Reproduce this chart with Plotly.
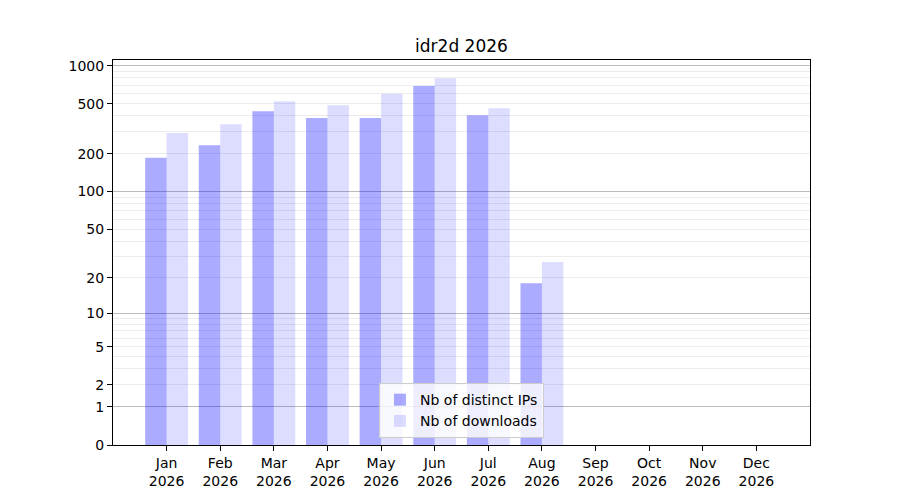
import numpy as np
import plotly.graph_objs as go

# monthly stats for idr2d, 2026
months = ['Jan', 'Feb', 'Mar', 'Apr', 'May', 'Jun', 'Jul', 'Aug', 'Sep', 'Oct', 'Nov', 'Dec']
year = '2026'
distinct_ips = [186, 234, 436, 384, 384, 691, 405, 18]
downloads = [292, 344, 523, 486, 598, 796, 460, 27]

tick_values = [0, 1, 2, 5, 10, 20, 50, 100, 200, 500, 1000]
major_grid = [1, 10, 100, 1000]
minor_grid = [m * 10 ** k for k in range(0, 3) for m in range(2, 10)]


def scale(v):
    # log10(1 + x) scale, same as the original figure
    return np.log10(1 + np.asarray(v, dtype=float))


x = list(range(len(distinct_ips)))
font = 'DejaVu Sans'

trace0 = go.Bar(
    x=x,
    y=scale(distinct_ips),
    name='Nb of distinct IPs',
    marker=dict(color='rgba(0,0,255,0.33)', line=dict(width=0)),
    hovertext=[str(v) for v in distinct_ips],
)
trace1 = go.Bar(
    x=x,
    y=scale(downloads),
    name='Nb of downloads',
    marker=dict(color='rgba(0,0,255,0.135)', line=dict(width=0)),
    hovertext=[str(v) for v in downloads],
)
# invisible helper so the overlay axis (dark major grid) gets drawn
helper = go.Scatter(x=[0], y=[0], yaxis='y2', mode='markers',
                    marker=dict(opacity=0), showlegend=False, hoverinfo='skip')

yrange = [0, 3.045]

fig = go.Figure(data=[helper, trace0, trace1])
# page body has an 8px margin, so margins are shifted by 8px
fig.update_layout(
    width=900, height=500,
    autosize=False,
    paper_bgcolor='white',
    plot_bgcolor='white',
    margin=dict(l=105, r=98, t=52, b=63),
    barmode='group',
    bargap=0.2,
    bargroupgap=0,
    font=dict(family=font, size=14, color='black'),
    title=dict(text='idr2d 2026', x=0.5, xref='paper', xanchor='center',
               y=1 - 38 / 500, yanchor='middle', font=dict(size=17, color='black')),
    xaxis=dict(
        range=[-1, 12],
        tickvals=list(range(len(months))),
        ticktext=[m + '<br>' + year for m in months],
        showgrid=False, zeroline=False,
        showline=True, linecolor='black', linewidth=1, mirror=True,
        ticks='outside', ticklen=5, tickcolor='black',
        tickfont=dict(size=14),
    ),
    yaxis=dict(
        range=yrange,
        tickvals=scale(tick_values),
        ticktext=[str(t) for t in tick_values],
        showgrid=True, gridcolor='#ececec', gridwidth=1,
        minor=dict(tickvals=scale(minor_grid), showgrid=True,
                   gridcolor='#ececec', gridwidth=1, ticks=''),
        zeroline=False,
        showline=True, linecolor='black', linewidth=1, mirror=True,
        ticks='outside', ticklen=5, tickcolor='black',
        tickfont=dict(size=14),
    ),
    yaxis2=dict(
        range=yrange,
        overlaying='y',
        side='left',
        tickvals=scale(major_grid),
        showticklabels=False, ticks='',
        showgrid=True, gridcolor='rgba(0,0,0,0.2)', gridwidth=1,
        zeroline=False, showline=False,
    ),
    legend=dict(
        x=0.5, xanchor='center',
        y=0.018, yanchor='bottom',
        bgcolor='rgba(255,255,255,0.8)',
        bordercolor='#cccccc', borderwidth=1,
        font=dict(size=14),
        traceorder='normal',
    ),
    showlegend=True,
)

fig.write_html('out.html')
